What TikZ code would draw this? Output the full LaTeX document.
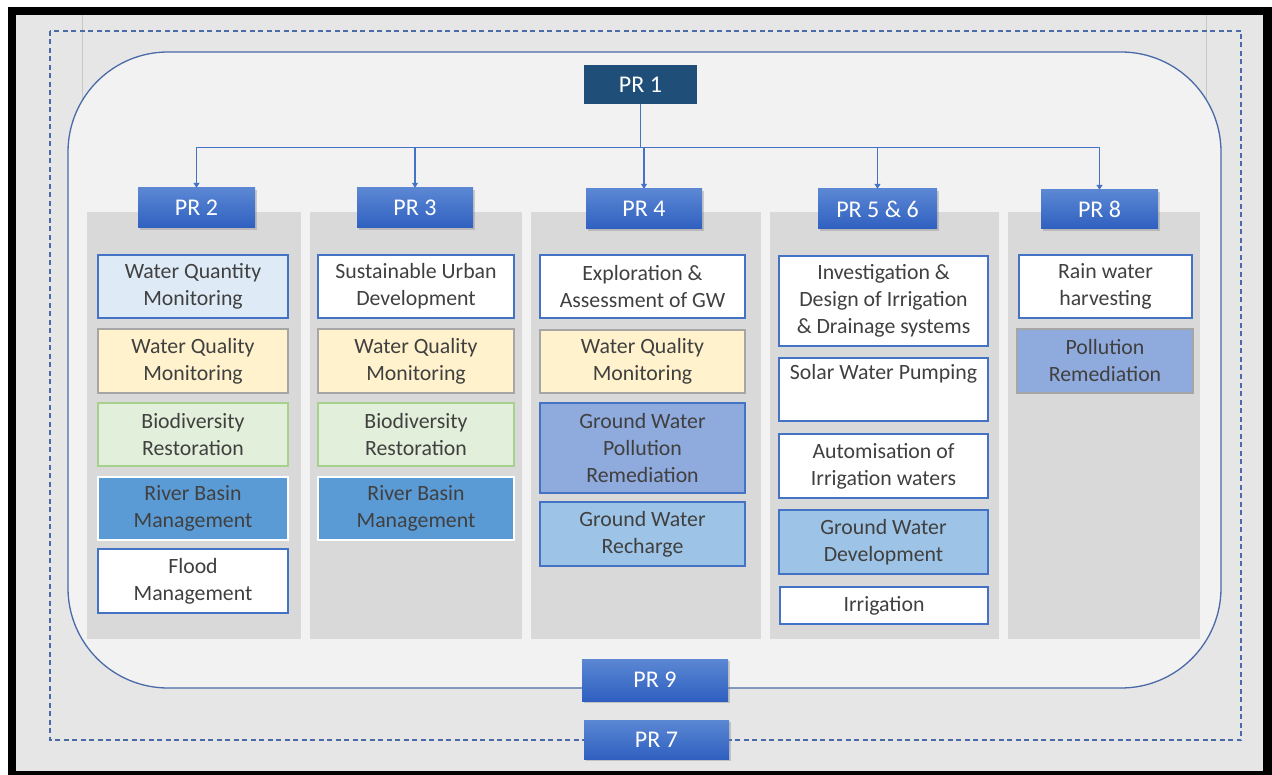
\documentclass[tikz,border=0pt]{standalone}
\usepackage{fontspec}
\setmainfont{Carlito}
\usetikzlibrary{shadows,arrows.meta}
\definecolor{bggray}{HTML}{E6E6E6}
\definecolor{innerfill}{HTML}{F2F2F2}
\definecolor{panelgray}{HTML}{D9D9D9}
\definecolor{frameblue}{HTML}{4A6AA8}
\definecolor{lineblue}{HTML}{4472C4}
\definecolor{prdark}{HTML}{1F4E79}
\definecolor{prtop}{HTML}{5B87D3}
\definecolor{prbot}{HTML}{2F60C0}
\definecolor{txt}{HTML}{404040}
\definecolor{qtyfill}{HTML}{DEEBF7}
\definecolor{qualfill}{HTML}{FFF2CC}
\definecolor{biofill}{HTML}{E2EFDA}
\definecolor{biodraw}{HTML}{A9D18E}
\definecolor{rbfill}{HTML}{5B9BD5}
\definecolor{polfill}{HTML}{8FAADC}
\definecolor{rechfill}{HTML}{9DC3E6}
\definecolor{graydraw}{HTML}{A6A6A6}
\definecolor{vline}{HTML}{C8C8C8}
\begin{document}
\begin{tikzpicture}[x=1pt,y=-1pt,
  prbox/.style={draw=none, top color=prtop, bottom color=prbot, text=white,
    font=\fontsize{24pt}{28pt}\selectfont, inner sep=0pt,
    drop shadow={opacity=0.35, shadow xshift=1.5pt, shadow yshift=-2pt}},
  item/.style={draw=lineblue, line width=1.1pt, fill=white, text=txt, align=center,
    font=\fontsize{21.8pt}{27pt}\selectfont, inner sep=0pt},
  qty/.style={item, fill=qtyfill},
  qual/.style={item, fill=qualfill, draw=graydraw},
  bio/.style={item, fill=biofill, draw=biodraw},
  rb/.style={item, fill=rbfill, draw=white, line width=1.5pt},
  pol/.style={item, fill=polfill},
  rech/.style={item, fill=rechfill},
  panel/.style={fill=panelgray, draw=none},
  conn/.style={draw=lineblue, line width=1.2pt, -{Triangle[width=6pt,length=5pt]}}
]
\useasboundingbox (0,0) rectangle (1272,775);
\fill[white] (0,0) rectangle (1272,775);
\fill[black] (8,7) rectangle (1272,775);
\fill[bggray] (16,15) rectangle (1263,771);
\draw[vline, line width=0.8pt] (82,15) -- (82,120);
\draw[vline, line width=0.8pt] (1206,15) -- (1206,120);
\draw[frameblue, line width=1.3pt, dash pattern=on 5pt off 3.5pt] (50,31) rectangle (1241,740);
\draw[frameblue, line width=1.3pt, fill=innerfill, rounded corners=100pt] (68,52) rectangle (1221,688);
% panels
\fill[panel] (87,212) rectangle (301,639);
\fill[panel] (310,212) rectangle (522,639);
\fill[panel] (531,212) rectangle (761,639);
\fill[panel] (770,212) rectangle (999,639);
\fill[panel] (1008,212) rectangle (1200,639);
% PR nodes
\node[fill=prdark, text=white, font=\fontsize{24pt}{28pt}\selectfont, inner sep=0pt,
  minimum width=113pt, minimum height=39pt] (pr1) at (640.5,84.5) {PR 1};
\node[prbox, minimum width=117pt, minimum height=40pt] (pr2) at (196.5,208) {PR 2};
\node[prbox, minimum width=116pt, minimum height=40pt] (pr3) at (415,208) {PR 3};
\node[prbox, minimum width=116pt, minimum height=40pt] (pr4) at (644,209) {PR 4};
\node[prbox, minimum width=119pt, minimum height=40pt] (pr56) at (877.5,209) {PR 5 \& 6};
\node[prbox, minimum width=117pt, minimum height=39pt] (pr8) at (1099.5,209.5) {PR 8};
\node[prbox, minimum width=146pt, minimum height=42pt] (pr9) at (655,680) {PR 9};
\node[prbox, minimum width=145pt, minimum height=39pt] (pr7) at (656.5,739.5) {PR 7};
% connectors
\draw[conn] (pr1.south) -- ++(0,43) -| (pr2.north);
\draw[conn] (pr1.south) -- ++(0,43) -| (pr3.north);
\draw[conn] (pr1.south) -- ++(0,43) -| (pr4.north);
\draw[conn] (pr1.south) -- ++(0,43) -| (pr56.north);
\draw[conn] (pr1.south) -- ++(0,43) -| (pr8.north);
% column PR 2
\node[qty, minimum width=190pt, minimum height=63pt] (a1) at (193,286.5) {Water Quantity\\Monitoring};
\node[qual, minimum width=190pt, minimum height=64pt] (a2) at (193,361) {Water Quality\\Monitoring};
\node[bio, minimum width=190pt, minimum height=63pt] (a3) at (193,434.5) {Biodiversity\\Restoration};
\node[rb, minimum width=190pt, minimum height=63pt] (a4) at (193,508.5) {River Basin\\Management};
\node[item, minimum width=190pt, minimum height=64pt] (a5) at (193,581) {Flood\\Management};
% column PR 3
\node[item, minimum width=196pt, minimum height=63pt] (b1) at (416,286.5) {Sustainable Urban\\Development};
\node[qual, minimum width=196pt, minimum height=64pt] (b2) at (416,361) {Water Quality\\Monitoring};
\node[bio, minimum width=196pt, minimum height=63pt] (b3) at (416,434.5) {Biodiversity\\Restoration};
\node[rb, minimum width=196pt, minimum height=63pt] (b4) at (416,508.5) {River Basin\\Management};
% column PR 4
\node[item, minimum width=205pt, minimum height=63pt] (c1) at (642.5,286.5) {Exploration \&\\Assessment of GW};
\node[qual, minimum width=205pt, minimum height=63pt] (c2) at (642.5,361.5) {Water Quality\\Monitoring};
\node[pol, minimum width=205pt, minimum height=90pt] (c3) at (642.5,448) {Ground Water\\Pollution\\Remediation};
\node[rech, minimum width=205pt, minimum height=64pt] (c4) at (642.5,534) {Ground Water\\Recharge};
% column PR 5 & 6
\node[item, minimum width=209pt, minimum height=90pt] (d1) at (883.5,301) {Investigation \&\\Design of Irrigation\\\& Drainage systems};
\node[item, minimum width=209pt, minimum height=63pt] (d2) at (883.5,389.5) {Solar Water Pumping\\\strut};
\node[item, minimum width=209pt, minimum height=64pt] (d3) at (883.5,466) {Automisation of\\Irrigation waters};
\node[rech, minimum width=209pt, minimum height=64pt] (d4) at (883.5,542) {Ground Water\\Development};
\node[item, minimum width=208pt, minimum height=37pt] (d5) at (884,605.5) {Irrigation};
% column PR 8
\node[item, minimum width=173pt, minimum height=63pt] (e1) at (1105.5,286.5) {Rain water\\harvesting};
\node[pol, draw=graydraw, minimum width=176pt, minimum height=64pt] (e2) at (1105,361) {Pollution\\Remediation};
\end{tikzpicture}
\end{document}
